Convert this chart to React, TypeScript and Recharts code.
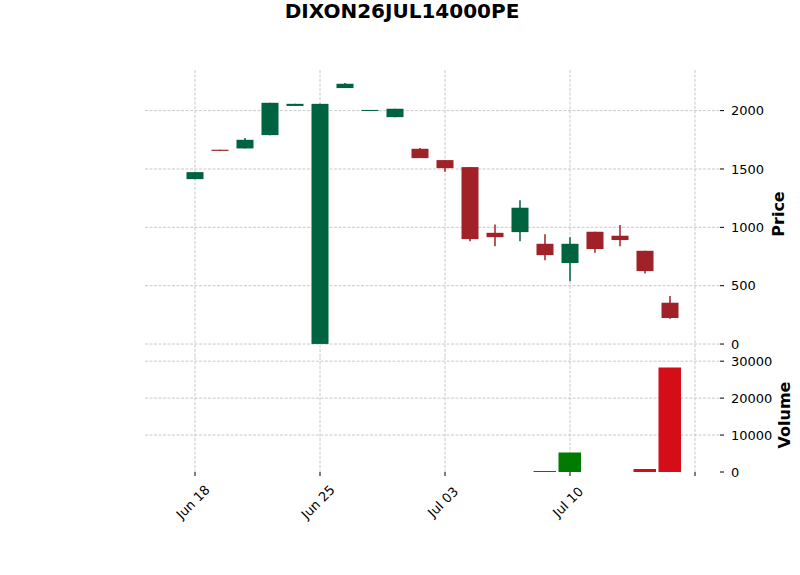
import React from 'react';
import { ComposedChart, Bar, XAxis, YAxis, CartesianGrid, Cell } from 'recharts';

const title = 'DIXON26JUL14000PE';

const dates = [
  'Jun 18', 'Jun 19', 'Jun 20', 'Jun 21', 'Jun 24', 'Jun 25', 'Jun 26', 'Jun 27', 'Jun 28', 'Jul 01',
  'Jul 03', 'Jul 04', 'Jul 05', 'Jul 08', 'Jul 09', 'Jul 10', 'Jul 11', 'Jul 12', 'Jul 15', 'Jul 16',
];
const opens = [1413, 1665, 1676, 1790, 2040, 1, 2193, 1997, 1944, 1673, 1576, 1516, 953, 959, 859, 694, 962, 928, 799, 354];
const highs = [1473, 1665, 1765, 2067, 2058, 2058, 2236, 2006, 2016, 1680, 1576, 1516, 1025, 1231, 940, 916, 962, 1019, 799, 411];
const lows = [1413, 1655, 1676, 1790, 2040, 1, 2193, 1997, 1944, 1593, 1476, 880, 837, 880, 717, 537, 782, 837, 605, 217];
const closes = [1473, 1655, 1750, 2067, 2058, 2058, 2230, 2006, 2016, 1593, 1507, 899, 916, 1168, 762, 859, 814, 891, 625, 223];
const volumes = [0, 0, 0, 0, 0, 0, 0, 0, 0, 0, 0, 0, 0, 0, 300, 5300, 0, 0, 800, 28300];

const xTicks = [0, 5, 10, 15, 20];
const priceTicks = [0, 500, 1000, 1500, 2000];
const volumeTicks = [0, 10000, 20000, 30000];
const volumeGrid = [10000, 20000, 30000];

const UP = '#006340';
const DOWN = '#A02128';
const VOL_UP = '#007a00';
const VOL_DOWN = '#d50d18';
const FONT = '"DejaVu Sans", sans-serif';

const rows = dates.map((d, i) => ({
  idx: i,
  date: d,
  open: opens[i],
  high: highs[i],
  low: lows[i],
  close: closes[i],
  range: [lows[i], highs[i]],
  volume: volumes[i],
  up: closes[i] >= opens[i],
}));

const callScale = (axis: any, v: number) => {
  const s = axis?.scale;
  if (typeof s === 'function') return s(v);
  if (s && typeof s.map === 'function') return s.map(v);
  return 0;
};

// body + wick, scaled from the bar's low/high pixels
const Candle = (props: any) => {
  const { x, y, width, height, payload } = props;
  const { open, high, low, close, up } = payload;
  const color = up ? UP : DOWN;
  const span = high - low;
  const ppu = span > 0 ? height / span : 0;
  const toY = (v: number) => y + (high - v) * ppu;
  const top = toY(Math.max(open, close));
  const bot = toY(Math.min(open, close));
  const cx = x + width / 2;
  return (
    <g>
      <line x1={cx} x2={cx} y1={y} y2={y + height} stroke={color} strokeWidth={1.5} />
      <rect x={x} y={top} width={width} height={Math.max(bot - top, 1)} fill={color} />
    </g>
  );
};

const DateTick = (props: any) => {
  const { x, y, payload } = props;
  const label = dates[payload.value];
  if (!label) return null;
  const cx = x - 2;
  const cy = y + 24;
  return (
    <text
      x={cx}
      y={cy}
      textAnchor="middle"
      dominantBaseline="central"
      transform={`rotate(-45, ${cx}, ${cy})`}
      fontFamily={FONT}
      fontSize={13}
      fill="#000"
    >
      {label}
    </text>
  );
};

const axisTitle = (left: number, top: number): React.CSSProperties => ({
  position: 'absolute',
  left: left - 60,
  top: top - 10,
  width: 120,
  height: 20,
  lineHeight: '20px',
  textAlign: 'center',
  fontSize: 16,
  fontWeight: 'bold',
  color: '#000',
  transform: 'rotate(-90deg)',
});

const gridProps = {
  stroke: '#bdbdbd',
  strokeDasharray: '3 1.5',
  strokeWidth: 0.8,
  syncWithTicks: true,
};

const tickStyle = { fill: '#000', fontSize: 13, fontFamily: FONT };

export default function App() {
  return (
    <div style={{ position: 'absolute', left: 0, top: 0, width: 800, height: 575, background: '#fff', fontFamily: FONT }}>
      <div
        style={{
          position: 'absolute',
          top: -1,
          left: 2,
          width: 800,
          textAlign: 'center',
          fontSize: 20,
          fontWeight: 'bold',
          lineHeight: '24px',
          color: '#000',
        }}
      >
        {title}
      </div>

      <div style={{ position: 'absolute', left: 0, top: 0 }}>
        <ComposedChart width={800} height={360} data={rows} margin={{ top: 70, right: 0, bottom: 3, left: 145 }}>
          <CartesianGrid
            {...gridProps}
            verticalCoordinatesGenerator={({ xAxis }: any) => xTicks.map((t) => callScale(xAxis, t))}
          />
          <XAxis type="number" dataKey="idx" domain={[-2, 21]} ticks={xTicks} hide />
          <YAxis
            orientation="right"
            width={80}
            domain={[-111, 2348]}
            ticks={priceTicks}
            axisLine={false}
            tickLine={{ stroke: '#000' }}
            tickSize={4}
            tickMargin={7}
            tick={tickStyle}
            allowDataOverflow
          />
          <Bar dataKey="range" barSize={17} shape={<Candle />} isAnimationActive={false} />
        </ComposedChart>
      </div>

      <div style={{ position: 'absolute', left: 0, top: 352 }}>
        <ComposedChart width={800} height={223} data={rows} margin={{ top: 5, right: 0, bottom: 0, left: 145 }}>
          <CartesianGrid
            {...gridProps}
            horizontalCoordinatesGenerator={({ yAxis }: any) => volumeGrid.map((t) => callScale(yAxis, t))}
          />
          <XAxis
            type="number"
            dataKey="idx"
            domain={[-2, 21]}
            ticks={xTicks}
            axisLine={false}
            tickLine={{ stroke: '#000' }}
            tickSize={4}
            tickMargin={2}
            height={103}
            tick={<DateTick />}
          />
          <YAxis
            orientation="right"
            width={80}
            domain={[0, 31130]}
            ticks={volumeTicks}
            axisLine={false}
            tickLine={{ stroke: '#000' }}
            tickSize={4}
            tickMargin={7}
            tick={tickStyle}
            allowDataOverflow
          />
          <Bar dataKey="volume" barSize={25} isAnimationActive={false}>
            {rows.map((r) => (
              <Cell key={r.idx} fill={r.up ? VOL_UP : VOL_DOWN} />
            ))}
          </Bar>
        </ComposedChart>
      </div>

      <div style={axisTitle(779, 214)}>Price</div>
      <div style={axisTitle(785, 415)}>Volume</div>
    </div>
  );
}
